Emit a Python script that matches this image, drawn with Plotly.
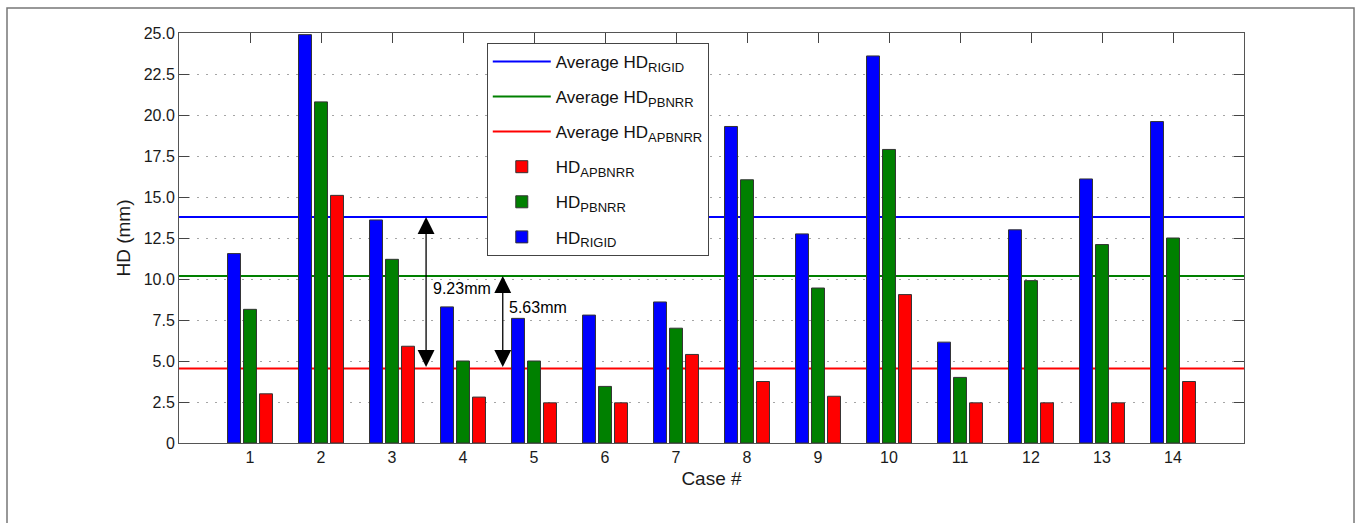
import plotly.graph_objects as go

cases = list(range(1, 15))
hd_rigid = [11.55, 24.9, 13.6, 8.3, 7.6, 7.8, 8.6, 19.3, 12.75, 23.6, 6.15, 13.0, 16.1, 19.6]
hd_pbnrr = [8.15, 20.8, 11.2, 5.0, 5.0, 3.45, 7.0, 16.05, 9.45, 17.9, 4.0, 9.9, 12.1, 12.5]
hd_apbnrr = [3.0, 15.1, 5.9, 2.8, 2.45, 2.45, 5.4, 3.75, 2.85, 9.05, 2.45, 2.45, 2.45, 3.75]

avg_rigid = 13.78
avg_pbnrr = 10.18
avg_apbnrr = 4.55

y_tickvals = [0, 2.5, 5, 7.5, 10, 12.5, 15, 17.5, 20, 22.5, 25]
y_ticktext = ["0", "2.5", "5.0", "7.5", "10.0", "12.5", "15.0", "17.5", "20.0", "22.5", "25.0"]

BLUE = "#0000ff"
GREEN = "#008000"
RED = "#ff0000"
FONT = "Liberation Sans, Arial, sans-serif"


def sub(s):
    return f"<sub><span style='font-size:13px'>{s}</span></sub>"


fig = go.Figure()

bar_specs = [
    ("HD" + sub("RIGID"), hd_rigid, BLUE, 6),
    ("HD" + sub("PBNRR"), hd_pbnrr, GREEN, 5),
    ("HD" + sub("APBNRR"), hd_apbnrr, RED, 4),
]
for name, vals, col, rank in bar_specs:
    fig.add_trace(go.Bar(
        x=cases, y=vals, name=name,
        marker=dict(color=col, line=dict(color="#333333", width=1)),
        legendrank=rank, legendgroup=name,
    ))

line_specs = [
    ("Average HD" + sub("RIGID"), avg_rigid, BLUE, 1),
    ("Average HD" + sub("PBNRR"), avg_pbnrr, GREEN, 2),
    ("Average HD" + sub("APBNRR"), avg_apbnrr, RED, 3),
]
for name, val, col, rank in line_specs:
    fig.add_shape(
        type="line", xref="x", yref="y", x0=0, x1=15, y0=val, y1=val,
        line=dict(color=col, width=2), layer="between",
        name=name, showlegend=True, legendrank=rank, legendgroup=name,
    )

# outer frame
fig.add_shape(type="rect", xref="paper", yref="paper",
              x0=-0.1615, x1=1.1033, y0=-0.25, y1=1.061,
              line=dict(color="#777777", width=1.5), fillcolor="rgba(0,0,0,0)")

# double-headed arrows
for xpos, top in [(3.48, avg_rigid), (4.56, avg_pbnrr)]:
    fig.add_annotation(
        x=xpos, y=top, ax=xpos, ay=avg_apbnrr, xref="x", yref="y",
        axref="x", ayref="y", text="", showarrow=True,
        arrowhead=2, startarrowhead=2, arrowside="end+start",
        arrowsize=2.6, startarrowsize=2.6, arrowwidth=1.3, arrowcolor="#000000",
        standoff=0, startstandoff=0,
    )

fig.add_annotation(x=3.55, y=9.43, xref="x", yref="y", xanchor="left", yanchor="middle",
                   text=f"{avg_rigid - avg_apbnrr:.2f}mm", showarrow=False,
                   font=dict(family=FONT, size=16, color="#000000"))
fig.add_annotation(x=4.62, y=8.27, xref="x", yref="y", xanchor="left", yanchor="middle",
                   text=f"{avg_pbnrr - avg_apbnrr:.2f}mm", showarrow=False,
                   font=dict(family=FONT, size=16, color="#000000"))

fig.update_layout(
    width=1357, height=523,
    margin=dict(l=179, r=113, t=33, b=80),
    paper_bgcolor="#ffffff", plot_bgcolor="#ffffff",
    barmode="group", bargap=0.324, bargroupgap=0.19,
    font=dict(family=FONT, size=16, color="#1a1a1a"),
    legend=dict(
        x=0.289, y=0.976, xanchor="left", yanchor="top",
        bgcolor="#ffffff", bordercolor="#444444", borderwidth=1,
        font=dict(family=FONT, size=17, color="#111111"),
        itemwidth=58, tracegroupgap=10, traceorder="grouped",
    ),
    xaxis=dict(
        range=[0, 15], tickvals=cases, ticktext=[str(c) for c in cases],
        ticks="inside", ticklen=10, tickcolor="#444444",
        showline=True, linecolor="#555555", linewidth=1, mirror="ticks",
        showgrid=False, zeroline=False, layer="below traces",
        title=dict(text="Case #", font=dict(size=19), standoff=6),
        tickfont=dict(size=16),
    ),
    yaxis=dict(
        range=[0, 25], tickvals=y_tickvals, ticktext=y_ticktext,
        ticks="inside", ticklen=10, tickcolor="#444444",
        showline=True, linecolor="#555555", linewidth=1, mirror="ticks",
        showgrid=True, gridcolor="#a5a5a5", griddash="2px,7px", gridwidth=1,
        zeroline=False,
        title=dict(text="HD (mm)", font=dict(size=19), standoff=8),
        tickfont=dict(size=16),
    ),
)

fig.write_html("out.html")
